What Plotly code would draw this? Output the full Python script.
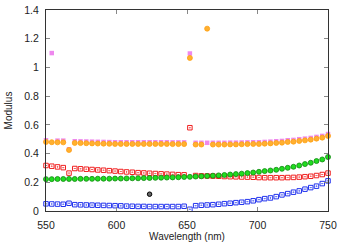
import plotly.graph_objects as go

wavelength = [550.0, 554.08, 558.16, 562.24, 566.33, 570.41, 574.49, 578.57, 582.65, 586.73,
              590.82, 594.9, 598.98, 603.06, 607.14, 611.22, 615.31, 619.39, 623.47, 627.55,
              631.63, 635.71, 639.8, 643.88, 647.96, 652.04, 656.12, 660.2, 664.29, 668.37,
              672.45, 676.53, 680.61, 684.69, 688.78, 692.86, 696.94, 701.02, 705.1, 709.18,
              713.27, 717.35, 721.43, 725.51, 729.59, 733.67, 737.76, 741.84, 745.92, 750.0]

blue = [0.050, 0.049, 0.048, 0.047, 0.054, 0.044, 0.043, 0.042, 0.041, 0.040,
        0.039, 0.038, 0.037, 0.036, 0.034, 0.033, 0.032, 0.032, 0.031, 0.031,
        0.031, 0.031, 0.031, 0.031, 0.033, 0.012, 0.037, 0.040, 0.042, 0.044,
        0.047, 0.051, 0.054, 0.058, 0.061, 0.065, 0.071, 0.079, 0.086, 0.091,
        0.100, 0.112, 0.121, 0.131, 0.140, 0.152, 0.163, 0.173, 0.191, 0.210]

red = [0.317, 0.312, 0.307, 0.302, 0.264, 0.296, 0.294, 0.291, 0.289, 0.286,
       0.284, 0.281, 0.278, 0.275, 0.272, 0.270, 0.267, 0.265, 0.263, 0.261,
       0.259, 0.257, 0.255, 0.253, 0.252, 0.580, 0.247, 0.245, 0.244, 0.243,
       0.242, 0.240, 0.239, 0.238, 0.237, 0.236, 0.235, 0.233, 0.232, 0.232,
       0.232, 0.232, 0.233, 0.234, 0.236, 0.239, 0.242, 0.247, 0.254, 0.264]

green = [0.222, 0.222, 0.223, 0.223, 0.223, 0.223, 0.224, 0.224, 0.224, 0.225,
         0.225, 0.225, 0.226, 0.226, 0.227, 0.228, 0.228, 0.229, 0.230, 0.231,
         0.232, 0.233, 0.234, 0.235, 0.237, 0.238, 0.240, 0.242, 0.244, 0.246,
         0.248, 0.251, 0.254, 0.257, 0.260, 0.264, 0.268, 0.273, 0.278, 0.282,
         0.287, 0.294, 0.301, 0.308, 0.317, 0.327, 0.336, 0.348, 0.359, 0.376]

orange = [0.481, 0.479, 0.478, 0.478, 0.425, 0.474, 0.473, 0.472, 0.471, 0.470,
          0.469, 0.468, 0.467, 0.467, 0.467, 0.467, 0.467, 0.467, 0.467, 0.467,
          0.467, 0.467, 0.466, 0.466, 0.466, 1.066, 0.463, 0.463, 1.270, 0.463,
          0.463, 0.463, 0.464, 0.464, 0.465, 0.466, 0.467, 0.467, 0.469, 0.471,
          0.474, 0.476, 0.481, 0.483, 0.488, 0.492, 0.497, 0.504, 0.511, 0.523]

violet = [0.493, 1.100, 0.490, 0.490, 0.430, 0.486, 0.485, 0.484, 0.483, 0.482,
          0.481, 0.480, 0.479, 0.479, 0.479, 0.479, 0.479, 0.479, 0.479, 0.479,
          0.479, 0.479, 0.478, 0.478, 0.478, 1.097, 0.475, 0.475, 0.475, 0.475,
          0.475, 0.475, 0.476, 0.476, 0.477, 0.478, 0.479, 0.479, 0.481, 0.483,
          0.486, 0.488, 0.493, 0.495, 0.500, 0.504, 0.509, 0.516, 0.523, 0.536]

black_x = [623.47]
black = [0.117]

x_ticks = [550, 600, 650, 700, 750]
y_ticks = [0, 0.2, 0.4, 0.6, 0.8, 1, 1.2, 1.4]
y_tick_labels = ["0", "0.2", "0.4", "0.6", "0.8", "1", "1.2", "1.4"]

FONT = "Liberation Sans, Arial, sans-serif"

fig = go.Figure()
fig.add_trace(go.Scatter(x=wavelength, y=violet, mode="markers",
                         marker=dict(symbol="square", size=4.5, color="#ee88ee",
                                     line=dict(width=0))))
fig.add_trace(go.Scatter(x=wavelength, y=orange, mode="markers",
                         marker=dict(symbol="circle", size=5, color="#ffb030",
                                     line=dict(width=0.8, color="#ff9f10"))))
fig.add_trace(go.Scatter(x=wavelength, y=red, mode="markers",
                         marker=dict(symbol="square-open-dot", size=4.5, color="#f02020",
                                     line=dict(width=1))))
fig.add_trace(go.Scatter(x=wavelength, y=green, mode="markers",
                         marker=dict(symbol="circle", size=5, color="#20dd20",
                                     line=dict(width=0.8, color="#108810"))))
fig.add_trace(go.Scatter(x=wavelength, y=blue, mode="markers",
                         marker=dict(symbol="square-open-dot", size=4.5, color="#2233ee",
                                     line=dict(width=1))))
fig.add_trace(go.Scatter(x=black_x, y=black, mode="markers",
                         marker=dict(symbol="circle", size=4.5, color="#666666",
                                     line=dict(width=1, color="#000000"))))

axis_common = dict(showline=True, linecolor="#333333", linewidth=1, mirror="ticks",
                   ticks="inside", ticklen=4, tickcolor="#888888", showgrid=False,
                   zeroline=False, automargin=False, ticklabelstandoff=4,
                   tickfont=dict(family=FONT, size=10.5, color="#222"))

fig.update_layout(
    width=345, height=242,
    margin=dict(l=46, r=17, t=10, b=31),
    paper_bgcolor="white", plot_bgcolor="white",
    showlegend=False,
    font=dict(family=FONT, size=10, color="#222"),
    xaxis=dict(range=[550, 750], tickvals=x_ticks,
               title=dict(text="Wavelength (nm)", standoff=4,
                          font=dict(family=FONT, size=10)),
               **axis_common),
    yaxis=dict(range=[0, 1.4], tickvals=y_ticks, ticktext=y_tick_labels,
               title=dict(text="Modulus", standoff=9,
                          font=dict(family=FONT, size=10)),
               **axis_common),
)
fig.update_traces(cliponaxis=False)

fig.write_html("out.html",
               config={"displayModeBar": False},
               post_script="document.body.style.margin='0';document.body.style.overflow='hidden';")
